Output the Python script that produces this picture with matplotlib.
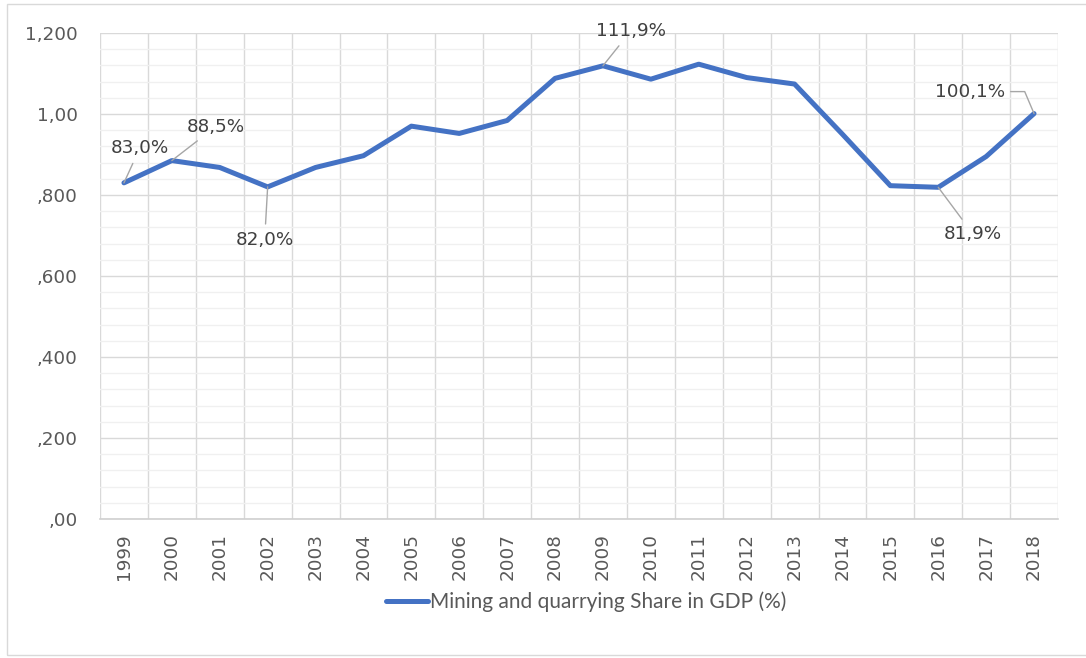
import matplotlib
matplotlib.use("Agg")
import matplotlib.pyplot as plt
from matplotlib.patches import Rectangle
from matplotlib.ticker import FixedLocator, MultipleLocator

years = [str(y) for y in range(1999, 2019)]
share = [0.830, 0.885, 0.868, 0.820, 0.868, 0.897, 0.970, 0.952, 0.984, 1.088,
         1.119, 1.086, 1.123, 1.090, 1.074, 0.950, 0.823, 0.819, 0.895, 1.001]
series_name = "Mining and quarrying Share in GDP (%)"
ytick_vals = [0.0, 0.2, 0.4, 0.6, 0.8, 1.0, 1.2]
ytick_labels = [",00", ",200", ",400", ",600", ",800", "1,00", "1,200"]
labelled_years = ["1999", "2000", "2002", "2009", "2016", "2018"]
label_offsets = {"1999": (16, 35), "2000": (44, 34), "2002": (-3, -53),
                 "2009": (28, 35), "2016": (35, -47), "2018": (-64, 22)}

plt.rcParams['font.family'] = ['DejaVu Sans']
tick_color = "#595959"
line_color = "#4472C4"

fig = plt.figure(figsize=(10.86, 6.58), dpi=100)
fig.patches.append(Rectangle((7 / 1086, 3 / 658), 1.1, 651 / 658, transform=fig.transFigure,
                             fill=False, edgecolor="#d9d9d9", linewidth=1.0))
ax = fig.add_axes([100 / 1086, 1 - 519 / 658, 958 / 1086, 486 / 658])

x = list(range(len(years)))
ax.plot(x, share, color=line_color, linewidth=3.6, solid_capstyle='round',
        solid_joinstyle='round', label=series_name, zorder=3)

ax.set_xlim(-0.5, len(years) - 0.5)
ax.set_ylim(0, 1.2)
ax.set_xticks(x)
ax.set_xticklabels(years, rotation=90, fontsize=13.2, color=tick_color)
ax.set_yticks(ytick_vals)
ax.set_yticklabels(ytick_labels, fontsize=13.2, color=tick_color)
ax.yaxis.set_minor_locator(MultipleLocator(0.04))
ax.xaxis.set_minor_locator(FixedLocator([i - 0.5 for i in range(len(years) + 1)]))
ax.tick_params(axis='both', which='both', length=0)
ax.tick_params(axis='y', pad=16)
ax.tick_params(axis='x', pad=10)

ax.grid(axis='y', which='major', color="#d9d9d9", linewidth=1.0, zorder=0)
ax.grid(axis='y', which='minor', color="#f0f0f0", linewidth=1.0, zorder=0)
ax.grid(axis='x', which='minor', color="#d9d9d9", linewidth=1.0, zorder=0)
ax.grid(axis='x', which='major', visible=False)
for s in ['top', 'right', 'left']:
    ax.spines[s].set_visible(False)
ax.spines['bottom'].set_color("#d0d0d0")
ax.spines['bottom'].set_linewidth(1.2)
ax.set_axisbelow(True)

for yr in labelled_years:
    i = years.index(yr)
    v = share[i]
    txt = f"{v * 100:.1f}%".replace(".", ",")
    dx, dy = label_offsets[yr]
    if yr == "2018":
        ap = dict(arrowstyle='-', color="#a6a6a6", lw=1.0, shrinkA=2, shrinkB=0,
                  connectionstyle="angle,angleA=0,angleB=113,rad=0", relpos=(1.0, 0.5))
    else:
        ap = dict(arrowstyle='-', color="#a6a6a6", lw=1.0, shrinkA=3, shrinkB=0)
    ax.annotate(txt, xy=(i, v), xytext=(dx, dy), textcoords='offset pixels',
                ha='center', va='center', fontsize=13.2, color="#404040",
                arrowprops=ap, zorder=4, annotation_clip=False)

leg = fig.legend(loc='center', bbox_to_anchor=(586 / 1086, 1 - 602 / 658), frameon=False,
                 prop={'family': ['Lato', 'DejaVu Sans'], 'size': 15},
                 handlelength=2.0, handletextpad=0.1, labelcolor=tick_color)

fig.savefig("out.png", dpi=100)
